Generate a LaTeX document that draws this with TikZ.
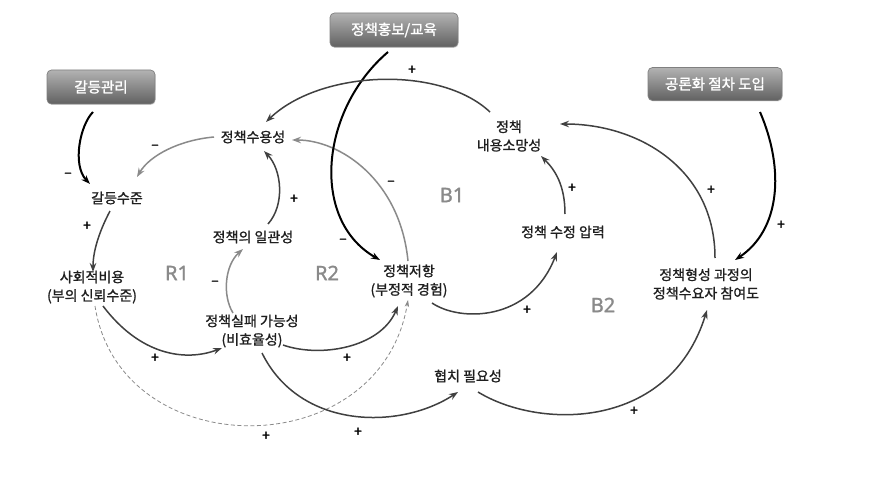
\documentclass[tikz,border=0pt]{standalone}
\usepackage{fontspec}
\setmainfont{Noto Sans CJK KR}[FakeBold=1.2]
\newfontfamily\krbold{Noto Sans CJK KR}[FakeBold=1.2]
\newfontfamily\krbox{Noto Sans CJK KR}[FakeBold=1.6]
\newfontfamily\latinsans{Noto Sans}[FakeBold=1.2]
\usetikzlibrary{arrows.meta,shadows}
\definecolor{dk}{HTML}{404040}
\definecolor{lg}{HTML}{8A8A8A}
\tikzset{
  var/.style={inner sep=0pt, align=center, text=black!88, font=\krbold\fontsize{14}{18.5}\selectfont},
  box/.style={rounded corners=4.5pt, top color=black!30, bottom color=black!62,
    draw=black!50, line width=0.7pt, text=white, inner sep=0pt,
    font=\krbox\fontsize{14.5}{16}\selectfont,
    drop shadow={shadow xshift=0.6pt, shadow yshift=-1pt, opacity=0.25}},
  tipp/.style={-{Stealth[length=9pt,width=6.5pt]}},
  darr/.style={tipp, draw=dk, line width=1.5pt},
  garr/.style={tipp, draw=lg, line width=1.5pt},
  barr/.style={tipp, draw=black, line width=2pt},
  dasharr/.style={-{Stealth[length=7pt,width=4.5pt]}, draw=lg, line width=0.8pt, dash pattern=on 4pt off 2.5pt},
  sgn/.style={font=\krbold\fontsize{14}{14}\selectfont, inner sep=0pt},
  looplab/.style={font=\latinsans\fontsize{20}{20}\selectfont, text=lg, inner sep=0pt}
}
\begin{document}
\begin{tikzpicture}[x=1pt,y=-1pt]
\fill[white] (0,0) rectangle (885,476);
\useasboundingbox (0,0) rectangle (885,476);

% intervention boxes
\node[box, minimum width=108pt, minimum height=34pt] (gm) at (101,87) {갈등관리};
\node[box, minimum width=128pt, minimum height=34pt] (pe) at (394,30) {정책홍보/교육};
\node[box, minimum width=134pt, minimum height=33pt] (pd) at (715,84) {공론화 절차 도입};

% variables
\node[var] (acc) at (253,137) {정책수용성};
\node[var] (gs) at (117,198) {갈등수준};
\node[var] (sc) at (92,287) {사회적비용\\(부의 신뢰수준)};
\node[var] (con) at (253,237) {정책의 일관성};
\node[var] (fail) at (252,331) {정책실패 가능성\\(비효율성)};
\node[var] (res) at (409,281) {정책저항\\(부정적 경험)};
\node[var] (des) at (509,136) {정책\\내용소망성};
\node[var] (pres) at (563,232) {정책 수정 압력};
\node[var] (part) at (706,284) {정책형성 과정의\\정책수요자 참여도};
\node[var] (gov) at (468,376) {협치 필요성};

% loop labels
\node[looplab] (r1) at (177,273) {R1};
\node[looplab] (r2) at (327,273) {R2};
\node[looplab] (b1) at (452,195) {B1};
\node[looplab] (b2) at (603,305) {B2};

% connectors
\draw[barr] ([shift={(-8,25)}]gm.center) .. controls (80,125) and (72,165) .. ([shift={(-27,-14)}]gs.center);
\draw[garr] ([shift={(-39,0)}]acc.center) .. controls (180,140) and (150,155) .. ([shift={(20,-21)}]gs.center);
\draw[darr] ([shift={(-7,13)}]gs.center) .. controls (100,230) and (93,250) .. ([shift={(1,-15)}]sc.center);
\draw[darr] ([shift={(11,19)}]sc.center) .. controls (140,355) and (185,362) .. ([shift={(-30,17)}]fail.center);
\draw[dasharr] ([shift={(3,19)}]sc.center) .. controls (120,466) and (380,466) .. ([shift={(-1,19)}]res.center);
\draw[garr] ([shift={(-19,-18)}]fail.center) .. controls (222,295) and (225,265) .. ([shift={(-10,12)}]con.center);
\draw[darr] ([shift={(15,-13)}]con.center) .. controls (285,205) and (282,170) .. ([shift={(11,14)}]acc.center);
\draw[darr] ([shift={(31,14)}]fail.center) .. controls (320,358) and (380,348) .. ([shift={(-11,25)}]res.center);
\draw[darr] ([shift={(10,22)}]fail.center) .. controls (300,430) and (400,430) .. ([shift={(-10,16)}]gov.center);
\draw[garr] ([shift={(-1,-20)}]res.center) .. controls (400,180) and (340,140) .. ([shift={(39,3)}]acc.center);
\draw[barr] ([shift={(-6,22)}]pe.center) .. controls (320,110) and (310,220) .. ([shift={(-29,-21)}]res.center);
\draw[darr] ([shift={(-19,-24)}]des.center) .. controls (440,65) and (320,70) .. ([shift={(13,-15)}]acc.center);
\draw[darr] ([shift={(23,22)}]res.center) .. controls (460,322) and (530,322) .. ([shift={(-6,20)}]pres.center);
\draw[darr] ([shift={(2,-18)}]pres.center) .. controls (565,185) and (555,170) .. ([shift={(32,20)}]des.center);
\draw[darr] ([shift={(9,-26)}]part.center) .. controls (715,170) and (640,124) .. ([shift={(51,-12)}]des.center);
\draw[barr] ([shift={(45,28)}]pd.center) .. controls (785,170) and (780,230) .. ([shift={(29,-24)}]part.center);
\draw[darr] ([shift={(10,16)}]gov.center) .. controls (540,430) and (670,430) .. ([shift={(1,26)}]part.center);

% polarity signs
\node[sgn] (s1) at (68,175) {–};
\node[sgn] (s2) at (155,147) {–};
\node[sgn] (s3) at (87,226) {+};
\node[sgn] (s4) at (294,199) {+};
\node[sgn] (s5) at (391,183) {–};
\node[sgn] (s6) at (412,70) {+};
\node[sgn] (s7) at (215,283) {–};
\node[sgn] (s8) at (343,241) {–};
\node[sgn] (s9) at (155,358) {+};
\node[sgn] (s10) at (347,358) {+};
\node[sgn] (s11) at (266,436) {+};
\node[sgn] (s12) at (358,432) {+};
\node[sgn] (s13) at (572,188) {+};
\node[sgn] (s14) at (711,190) {+};
\node[sgn] (s15) at (781,225) {+};
\node[sgn] (s16) at (527,310) {+};
\node[sgn] (s17) at (634,411) {+};
\end{tikzpicture}
\end{document}
